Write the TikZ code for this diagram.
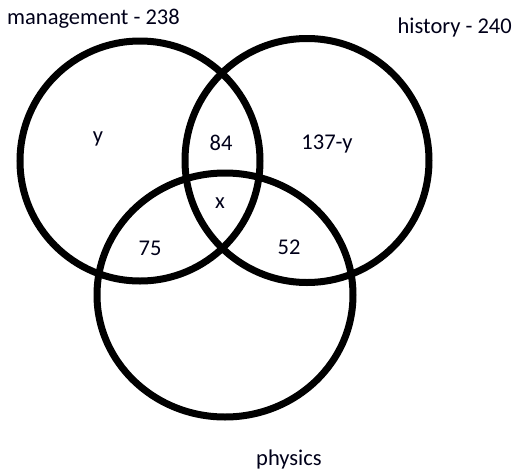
\documentclass[tikz,border=0pt]{standalone}
\usepackage{fontspec}
\setmainfont{Carlito}
\begin{document}
\begin{tikzpicture}[x=1pt,y=-1pt,
  setline/.style={line width=7pt, draw=black},
  lbl/.style={anchor=base, inner sep=0pt, font=\fontsize{22.5}{26}\selectfont, text=black!90!blue}]
\useasboundingbox (0,0) rectangle (515,472);
\draw[setline] (140,161) circle[radius=120pt];
\draw[setline] (307,160.5) circle[radius=122pt];
\draw[setline] (225,295) ellipse[x radius=128pt, y radius=122pt];
\node[lbl, anchor=base west] (mgmt) at (7,24.5) {management - 238};
\node[lbl, anchor=base east] (hist) at (512,33) {history - 240};
\node[lbl, anchor=base west] (phys) at (256,465) {physics};
\node[lbl] (ny) at (98,142) {y};
\node[lbl] (n84) at (221,150.5) {84};
\node[lbl] (n137) at (327,149) {137-y};
\node[lbl] (nx) at (220,208) {x};
\node[lbl] (n75) at (150,255) {75};
\node[lbl] (n52) at (289,254) {52};
\end{tikzpicture}
\end{document}
